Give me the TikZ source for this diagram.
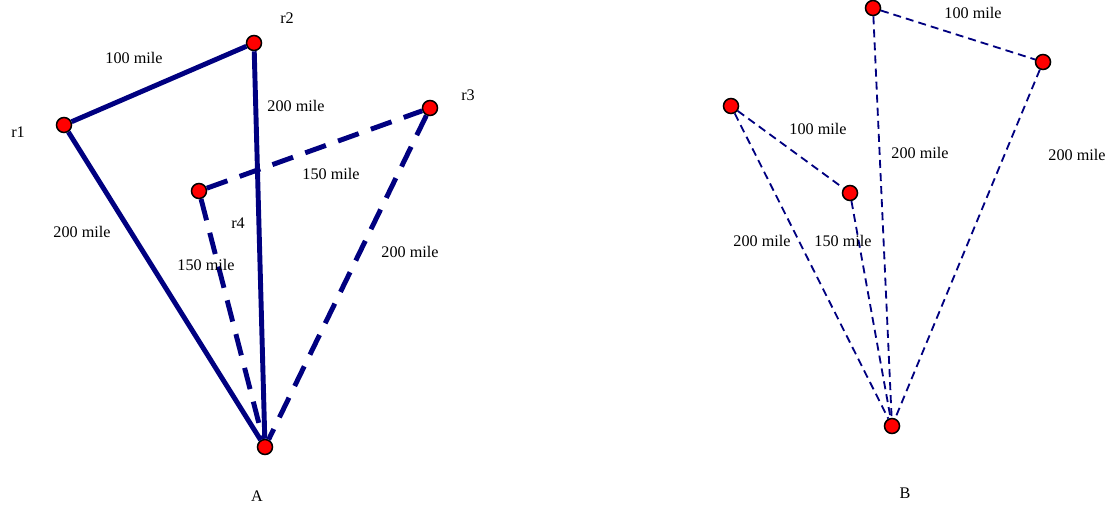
\documentclass[tikz,border=0pt]{standalone}
\usepackage{fontspec}
\setmainfont{Liberation Serif}
\usetikzlibrary{shapes.geometric}
\definecolor{navy}{RGB}{0,0,128}
\tikzstyle{station} = [
    circle,
    minimum size=0.375cm,
    inner sep=0pt,
    fill=red,
    draw=black,
    line width=1.1pt
]
\tikzstyle{route} = [navy, line width=3.5pt]
\tikzstyle{routedash} = [navy, line width=3.5pt, dash pattern=on 15.6pt off 9.2pt]
\tikzstyle{thinroute} = [navy, line width=1.3pt, dash pattern=on 5.7pt off 3.6pt]
\tikzstyle{milelabel} = [inner sep=0pt, font=\fontsize{11.5}{13}\selectfont]

\begin{document}
\begin{tikzpicture}[x=0.025cm, y=-0.025cm]

\useasboundingbox (0,0) rectangle (1111,507);

% graph A
\node (r1) [station] at (64,125) {};
\node (r2) [station] at (254,43) {};
\node (r3) [station] at (430,108) {};
\node (r4) [station] at (199,191) {};
\node (a) [station] at (265,447) {};

\node (r1name) [milelabel] at (18,132) {r1};
\node (r2name) [milelabel] at (287,18) {r2};
\node (r3name) [milelabel] at (468,95) {r3};
\node (r4name) [milelabel] at (238,223) {r4};
\node (aname) [milelabel] at (257,496) {A};

\draw [route] (r1) -- (r2);
\draw [route] (r2) -- (a);
\draw [route] (r1) -- (a);
\draw [routedash] (r4) -- (r3);
\draw [routedash] (r4) -- (a);
\draw [routedash] (r3) -- (a);

\node (d12) [milelabel] at (134,58) {100 mile};
\node (d2a) [milelabel] at (296,106) {200 mile};
\node (d43) [milelabel] at (331,174) {150 mile};
\node (d1a) [milelabel] at (82,232) {200 mile};
\node (d4a) [milelabel] at (206,265) {150 mile};
\node (d3a) [milelabel] at (410,252) {200 mile};

% graph B
\node (top) [station] at (873,8) {};
\node (right) [station] at (1043,62) {};
\node (left) [station] at (731,106) {};
\node (mid) [station] at (850,193) {};
\node (b) [station] at (892,426) {};

\node (bname) [milelabel] at (905,493) {B};

\draw [thinroute] (top) -- (right);
\draw [thinroute] (left) -- (mid);
\draw [thinroute] (top) -- (b);
\draw [thinroute] (right) -- (b);
\draw [thinroute] (left) -- (b);
\draw [thinroute] (mid) -- (b);

\node (dtr) [milelabel] at (973,13) {100 mile};
\node (dlm) [milelabel] at (818,129) {100 mile};
\node (dtb) [milelabel] at (920,153) {200 mile};
\node (drb) [milelabel] at (1077,155) {200 mile};
\node (dlb) [milelabel] at (762,241) {200 mile};
\node (dmb) [milelabel] at (843,241) {150 mile};

\end{tikzpicture}
\end{document}
